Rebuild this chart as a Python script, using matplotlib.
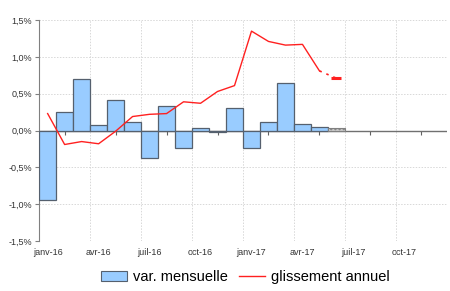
import matplotlib.pyplot as plt
import matplotlib.ticker as mticker
from matplotlib.patches import Patch
from matplotlib.lines import Line2D

plt.rcParams['font.family'] = ['Liberation Sans', 'DejaVu Sans']

months = ["janv-16", "févr-16", "mars-16", "avr-16", "mai-16", "juin-16",
          "juil-16", "août-16", "sept-16", "oct-16", "nov-16", "déc-16",
          "janv-17", "févr-17", "mars-17", "avr-17", "mai-17", "juin-17",
          "juil-17", "août-17", "sept-17", "oct-17", "nov-17", "déc-17"]

# monthly change (%), last value provisional
var_mensuelle = [-0.95, 0.25, 0.70, 0.07, 0.41, 0.12, -0.37, 0.33, -0.24, 0.03,
                 -0.02, 0.30, -0.24, 0.12, 0.64, 0.09, 0.05]
var_provisoire = 0.03

# year-on-year change (%)
glissement = [0.23, -0.19, -0.15, -0.18, -0.01, 0.19, 0.22, 0.23, 0.39, 0.37,
              0.53, 0.61, 1.35, 1.21, 1.16, 1.17, 0.81]
glissement_provisoire = 0.71

fig = plt.figure(figsize=(4.5, 2.91), dpi=100)
ax = fig.add_axes([0.087, 0.172, 0.906, 0.759])

x = list(range(len(months)))
n = len(var_mensuelle)

ax.bar(x[:n], var_mensuelle, width=1.0, color="#99CCFF",
       edgecolor="#55606e", linewidth=0.9, zorder=3)
ax.bar(x[n], var_provisoire, width=1.0, color="#c8c8c8",
       edgecolor="#808080", linewidth=0.8, hatch="....", zorder=3)

ax.plot(x[:n], glissement, color="#ff2020", lw=1.0, zorder=4)
ax.plot([x[n - 1], x[n]], [glissement[-1], glissement_provisoire],
        color="#ff2020", lw=1.2, ls=(0, (1.5, 3)), zorder=4)
ax.plot(x[n], glissement_provisoire, marker="_", ms=7, mew=2.2,
        color="#ff2020", zorder=4)

ax.set_xlim(-0.5, len(months) - 0.5)
ax.set_ylim(-1.5, 1.5)

ax.set_yticks([-1.5, -1.0, -0.5, 0.0, 0.5, 1.0, 1.5])
ax.yaxis.set_major_formatter(
    mticker.FuncFormatter(lambda v, p: f"{v:.1f}%".replace(".", ",")))
ax.tick_params(axis="y", labelsize=6.5, length=3, color="#808080",
               labelcolor="#333333", pad=2)

ax.set_xticks(x[::3])
ax.set_xticklabels(months[::3])
ax.set_xticks([i + 2.5 for i in range(0, len(months), 3)], minor=True)
ax.tick_params(axis="x", which="both", length=0, labelsize=6.5,
               labelcolor="#333333", pad=5)

ax.grid(axis="y", which="major", color="#d8d8d8", ls=(0, (1.5, 1.5)), lw=0.7)
ax.grid(axis="x", which="minor", color="#d8d8d8", ls=(0, (1.5, 1.5)), lw=0.7)
ax.set_axisbelow(True)

for s in ["top", "right", "bottom"]:
    ax.spines[s].set_visible(False)
ax.spines["left"].set_color("#808080")

# zero line with small ticks
ax.axhline(0, color="#707070", lw=1.0, zorder=2.5)
zero = ax.secondary_xaxis(0.5)
zero.set_xticks(x[1::3])
zero.tick_params(length=3, direction="in", color="#606060", labelbottom=False,
                 labeltop=False)
for s in zero.spines.values():
    s.set_visible(False)

handles = [Patch(facecolor="#99CCFF", edgecolor="#55606e", lw=0.8),
           Line2D([0], [0], color="#ff2020", lw=1.0)]
fig.legend(handles, ["var. mensuelle", "glissement annuel"], loc="center",
           bbox_to_anchor=(0.545, 0.048), ncol=2, frameon=False, fontsize=10.5,
           handlelength=1.8, handletextpad=0.4, columnspacing=0.8)

fig.savefig("out.png", dpi=100)
